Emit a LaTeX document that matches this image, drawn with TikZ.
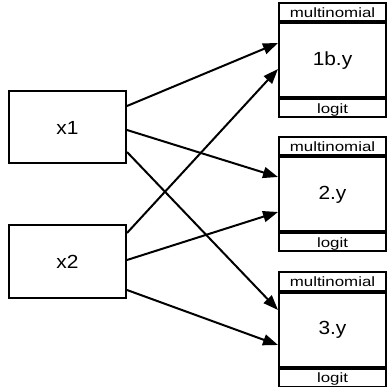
\documentclass[tikz,border=0pt]{standalone}
\usepackage{fontspec}
\setmainfont{Liberation Sans}
\newfontfamily\labelfont[FakeStretch=1.1]{Liberation Sans}
\newfontfamily\bandfont[FakeStretch=1.25]{Liberation Sans}
\usetikzlibrary{arrows.meta,positioning}

\begin{document}
\begin{tikzpicture}[x=1pt,y=-1pt,
	box/.style={draw,line width=2pt,minimum width=117pt,minimum height=72pt,inner sep=0pt,font=\labelfont\fontsize{19}{19}\selectfont},
	outbox/.style={draw,line width=2pt,minimum width=107pt,minimum height=74pt,inner sep=0pt,font=\labelfont\fontsize{19}{19}\selectfont},
	band/.style={draw,line width=2pt,minimum width=107pt,minimum height=18pt,inner sep=0pt,text height=13pt,text depth=3pt,font=\bandfont\fontsize{13.5}{13.5}\selectfont},
	coef/.style={line width=2pt,-{Triangle[length=15pt,width=11pt]}}]
			\useasboundingbox (0,0) rectangle (388,387);
			\node[box] (x1) at (67.5,127.5) {x1};
			\node[box] (x2) at (67.5,261.5) {x2};
			\foreach \n/\t/\yy in {1/1b.y/60.5, 2/2.y/194.5, 3/3.y/329.5}
			{
				\node[outbox] (y\n) at (332.5,\yy) {\t};
				\node[band,above=0pt of y\n] (m\n) {multinomial};
				\node[band,below=0pt of y\n] (l\n) {logit};
			}
			\foreach \a/\sa/\b/\sb in {x1/21.5/y1/17.5, x1/-2.5/y2/17.5, x1/-24.5/y3/19.5, x2/28.5/y1/-8.5, x2/1.5/y2/-17.5, x2/-28.5/y3/-15.5}
				\draw[coef] ([yshift=\sa pt]\a.east) -- ([yshift=\sb pt]\b.west);
		\end{tikzpicture}
\end{document}
